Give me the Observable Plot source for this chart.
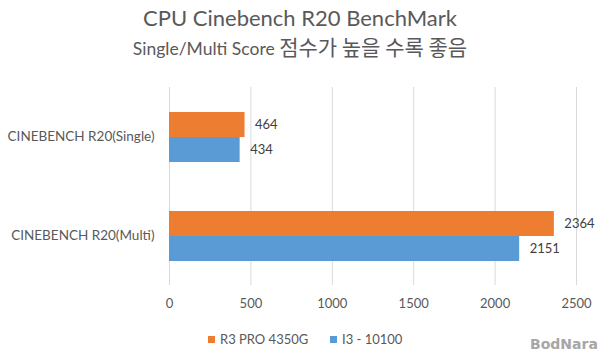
<!DOCTYPE html>
<html><head><meta charset="utf-8">
<script src="https://cdn.jsdelivr.net/npm/d3@7"></script>
<script src="https://cdn.jsdelivr.net/npm/@observablehq/plot@0.6"></script>
<style>
body{margin:0;background:#fff;font-family:Lato,"Noto Sans CJK KR",sans-serif;}
#wrap{position:relative;width:600px;height:355px;overflow:hidden;background:#fff}
.t{position:absolute;left:0;width:600px;text-align:center;white-space:nowrap;color:#595959}
#title{top:7px;font-size:22px;line-height:22px}
#subtitle{top:37px;font-size:17.5px;line-height:24px}
#subtitle .ko{font-family:"Noto Sans CJK KR",sans-serif;font-size:21px;line-height:0}
#chart{position:absolute;left:0;top:70px}
#legend{position:absolute;left:0;top:331px;width:600px;height:16px;font-size:13px;line-height:16px;color:#595959}
.item{position:absolute;top:0;white-space:nowrap}
.sw{display:inline-block;width:7px;height:7px;margin-right:5px;vertical-align:1px}
#mark{position:absolute;left:530px;top:336px;font-size:14px;line-height:16px;font-weight:bold;color:#a6a6a6;font-family:"DejaVu Sans",sans-serif;white-space:nowrap}
</style></head><body>
<div id="wrap">
 <div id="title" class="t">CPU Cinebench R20 BenchMark</div>
 <div id="subtitle" class="t">Single/Multi Score <span class="ko">점수가 높을 수록 좋음</span></div>
 <div id="chart"></div>
 <div id="legend"></div>
 <div id="mark">BodNara</div>
</div>
<script>
const categories = ["CINEBENCH R20(Single)", "CINEBENCH R20(Multi)"];
const seriesNames = ["R3 PRO 4350G", "I3 - 10100"];
const r3Scores = [464, 2364];
const i3Scores = [434, 2151];
const xTicks = [0, 500, 1000, 1500, 2000, 2500];
const seriesColors = ["#ED7D31", "#5B9BD5"];

const data = [];
categories.forEach((c, i) => {
  data.push({category: c, series: seriesNames[0], value: r3Scores[i]});
  data.push({category: c, series: seriesNames[1], value: i3Scores[i]});
});

const chart = Plot.plot({
  width: 600, height: 250,
  marginTop: 17, marginBottom: 35, marginLeft: 169, marginRight: 24,
  style: {fontFamily: 'Lato, "Noto Sans CJK KR", sans-serif', fontSize: "13px", color: "#595959", background: "#fff"},
  x: {domain: [0, 2500], ticks: xTicks, tickSize: 0, tickPadding: 13, label: null, tickFormat: d => String(d)},
  fy: {domain: categories, padding: 0, label: null, tickSize: 0, tickPadding: 15, axis: "left"},
  y: {domain: seriesNames, paddingInner: 0, paddingOuter: 0.98, axis: null},
  color: {domain: seriesNames, range: seriesColors},
  marks: [
    Plot.gridX(xTicks, {stroke: "#d9d9d9", strokeOpacity: 1}),
    Plot.barX(data, {x: "value", y: "series", fy: "category", fill: "series"}),
    Plot.text(data, {x: "value", y: "series", fy: "category", text: d => String(d.value), dx: 10, textAnchor: "start", fill: "#404040", fontSize: 13})
  ]
});
chart.querySelectorAll("g[aria-label='fy-axis tick label'] text, g[aria-label='fy-axis'] text").forEach(t => t.setAttribute("font-size", "13.5"));
document.getElementById("chart").appendChild(chart);

const legend = document.getElementById("legend");
const legendX = [208, 330];
seriesNames.forEach((s, i) => {
  const it = document.createElement("div");
  it.className = "item";
  it.style.left = legendX[i] + "px";
  const sw = document.createElement("span");
  sw.className = "sw";
  sw.style.background = seriesColors[i];
  it.appendChild(sw);
  it.appendChild(document.createTextNode(s));
  legend.appendChild(it);
});
</script>
</body></html>
